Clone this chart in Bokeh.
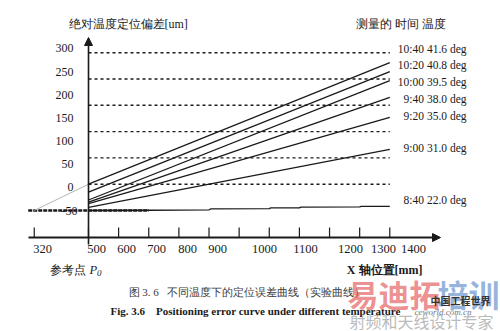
from bokeh.plotting import figure
from bokeh.models import Range1d, Arrow, NormalHead
from bokeh.embed import file_html
from bokeh.resources import INLINE
from bokeh.core.properties import value

# ---------------- data ----------------
series_time = ["10:40", "10:20", "10:00", "9:40", "9:20", "9:00", "8:40"]
series_temp = [41.6, 40.8, 39.5, 38.0, 35.0, 31.0, 22.0]

line_x = [500, 1500]
err_1040 = [0, 231]
err_1020 = [-15, 214]
err_1000 = [-30, 197]
err_0940 = [-34, 165]
err_0920 = [-37, 127]
err_0900 = [-44, 66]
x_0840 = [500, 700, 900, 905, 1100, 1105, 1200, 1205, 1400, 1405, 1500]
err_0840 = [-50, -49.5, -49, -47, -46.5, -45, -45, -43.5, -43, -42, -42]

ref_levels = [0, 50, 100, 150, 200, 250]
ref_x = [500, 1500]
base_level = -50
base_x = [300, 700]
ref_point = [320, -50]

x_ticks = [320, 500, 600, 700, 800, 900, 1000, 1100, 1200, 1300, 1400, 1500]
x_tick_labels = ["320", "500", "600", "700", "800", "900", "1000", "1100", "1200", "1300", "1400"]
y_tick_labels = ["300", "250", "200", "150", "100", "50", "0", "-50"]

# ---------------- layout ----------------
W, H = 500, 331
X0, X1 = 207.93, 1867.4
Y0, Y1 = -280.04, 349.24


def X(px):
    return X0 + px * (X1 - X0) / W


def Y(py):
    return Y1 - py * (Y1 - Y0) / H


SERIF = value("Liberation Serif")
CJK = value("Noto Sans CJK SC")
INK = "#1a1a1a"
NB = "\u00a0"

p = figure(width=W, height=H, x_range=Range1d(X0, X1), y_range=Range1d(Y0, Y1),
           x_axis_type=None, y_axis_type=None, toolbar_location=None,
           output_backend="svg", min_border=0, outline_line_color=None,
           background_fill_color="white", border_fill_color="white")
p.xgrid.visible = False
p.ygrid.visible = False

# dashed reference levels
p.multi_line(xs=[ref_x for _ in ref_levels], ys=[[v, v] for v in ref_levels],
             line_color=INK, line_width=1.4, line_dash="3 3")
# -50 base reference (thick dashed)
p.line(base_x, [base_level, base_level], line_color=INK, line_width=2.4, line_dash="4 1")
# gray extension to reference point
p.line([ref_point[0], line_x[0]], [ref_point[1], err_1040[0]], line_color="#b5b5b5", line_width=1)

# error curves
for ys in [err_1040, err_1020, err_1000, err_0940, err_0920, err_0900]:
    p.line(line_x, ys, line_color=INK, line_width=1.3)
p.line(x_0840, err_0840, line_color=INK, line_width=1.3)

# axes
p.add_layout(Arrow(end=NormalHead(size=8, fill_color=INK, line_color=INK),
                   x_start=500, y_start=Y(244), x_end=500, y_end=Y(37),
                   line_color=INK, line_width=1.6))
p.add_layout(Arrow(end=NormalHead(size=8, fill_color=INK, line_color=INK),
                   x_start=X(28), y_start=Y(237), x_end=X(440), y_end=Y(237),
                   line_color=INK, line_width=2))
p.segment(x0=x_ticks, y0=[Y(237)] * len(x_ticks), x1=x_ticks, y1=[Y(227)] * len(x_ticks),
          line_color=INK, line_width=1.2)

# x tick labels
xl_px = [42, 96, 126, 156, 187, 217, 264, 305, 350, 383, 413]
p.text(x=[X(v) for v in xl_px], y=[Y(248)] * len(xl_px), text=x_tick_labels,
       text_font=SERIF, text_font_size=value("12.5px"), text_color=INK,
       text_align="center", text_baseline="middle")

# y tick labels
yl_py = [47, 71, 94, 117, 140, 163, 186, 210]
yl_px = [73, 73, 73, 73, 73, 73, 73, 77]
p.text(x=[X(v) for v in yl_px], y=[Y(v) for v in yl_py], text=y_tick_labels,
       text_font=SERIF, text_font_size=value("12px"), text_color=INK,
       text_align="right", text_baseline="middle")

# series labels
sl_py = [48, 64, 81, 98, 115, 147, 199]
series_labels = [f"{t} {v:.1f} deg" for t, v in zip(series_time, series_temp)]
p.text(x=[X(466)] * len(series_labels), y=[Y(v) for v in sl_py], text=series_labels,
       text_font=SERIF, text_font_size=value("11.5px"), text_color=INK,
       text_align="right", text_baseline="middle")

# titles
p.text(x=[X(68)], y=[Y(23)], text=["绝对温度定位偏差[um]"], text_font=SERIF,
       text_font_size=value("12px"), text_color=INK, text_align="left", text_baseline="middle")
p.text(x=[X(355)], y=[Y(23)], text=["测量的 时间 温度"], text_font=SERIF,
       text_font_size=value("12px"), text_color=INK, text_align="left", text_baseline="middle")
p.text(x=[X(49)], y=[Y(269)], text=["参考点"], text_font=SERIF,
       text_font_size=value("12px"), text_color=INK, text_align="left", text_baseline="middle")
p.text(x=[X(89)], y=[Y(269)], text=["P"], text_font=SERIF, text_font_style="italic",
       text_font_size=value("12.5px"), text_color=INK, text_align="left", text_baseline="middle")
p.text(x=[X(96.5)], y=[Y(272)], text=["0"], text_font=SERIF, text_font_style="italic",
       text_font_size=value("9px"), text_color=INK, text_align="left", text_baseline="middle")
p.text(x=[X(422)], y=[Y(269)], text=["X 轴位置[mm]"], text_font=SERIF, text_font_style="bold",
       text_font_size=value("12px"), text_color=INK, text_align="right", text_baseline="middle")

# captions
p.text(x=[X(128)], y=[Y(291)], text=[f"图 3. 6 {NB}{NB}不同温度下的定位误差曲线（实验曲线）"], text_font=SERIF,
       text_font_size=value("11px"), text_color="#3a3a3a", text_align="left", text_baseline="middle")
p.text(x=[X(110)], y=[Y(310)], text=[f"Fig. 3.6 {NB}{NB}{NB}Positioning error curve under different temperature"],
       text_font=SERIF, text_font_style="bold", text_font_size=value("11px"), text_color=INK,
       text_align="left", text_baseline="middle")

# watermark
p.text(x=[X(347)], y=[Y(293)], text=["易迪拓"], text_font=CJK, text_font_style="bold",
       text_font_size=value("31px"), text_color="#e04848", text_alpha=0.6,
       text_align="left", text_baseline="middle")
p.text(x=[X(437)], y=[Y(293)], text=["培训"], text_font=CJK, text_font_style="bold",
       text_font_size=value("31px"), text_color="#4f82c8", text_alpha=0.6,
       text_align="left", text_baseline="middle")
p.text(x=[X(430)], y=[Y(300)], text=["中国工程世界"], text_font=CJK, text_font_style="bold",
       text_font_size=value("10px"), text_color="#333333",
       text_align="left", text_baseline="middle")
p.text(x=[X(414)], y=[Y(311)], text=["ceworld.com.cn"], text_font=SERIF, text_font_style="italic",
       text_font_size=value("9px"), text_color="#777777",
       text_align="left", text_baseline="middle")
p.text(x=[X(421)], y=[Y(320)], text=["射频和天线设计专家"], text_font=CJK,
       text_font_size=value("16px"), text_color="#a8a8a8", text_alpha=0.8,
       text_align="center", text_baseline="middle")

open("out.html", "w").write(file_html(p, INLINE))
